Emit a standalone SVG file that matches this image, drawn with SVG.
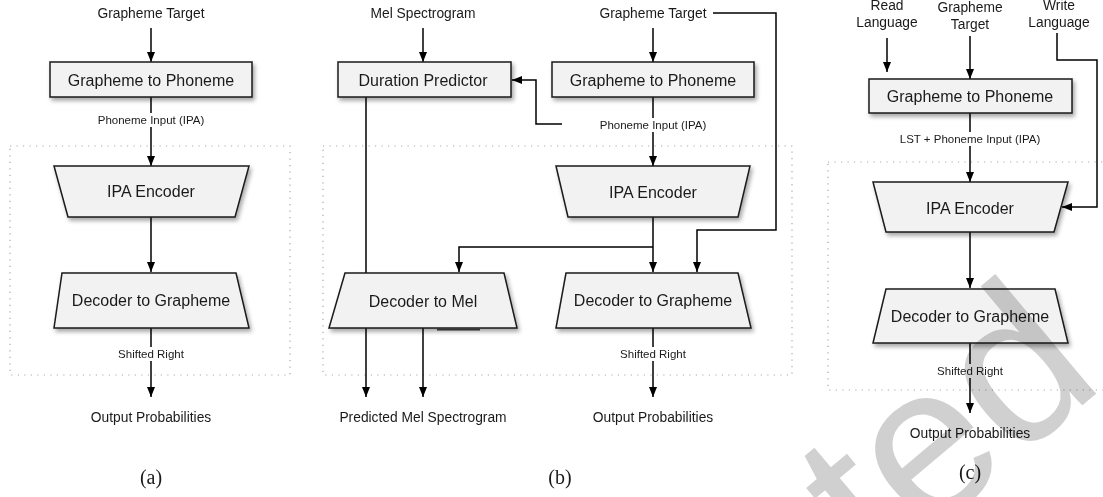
<svg xmlns="http://www.w3.org/2000/svg" width="1103" height="497" viewBox="0 0 1103 497">
<style>
.box{fill:#f2f2f2;stroke:#1a1a1a;stroke-width:1.5;filter:url(#sh)}
.t16{font-family:"Liberation Sans",Arial,sans-serif;font-size:16px;text-anchor:middle;fill:#1a1a1a}
.t14{font-family:"Liberation Sans",Arial,sans-serif;font-size:13.8px;text-anchor:middle;fill:#1a1a1a}
.t11{font-family:"Liberation Sans",Arial,sans-serif;font-size:11.5px;text-anchor:middle;fill:#1a1a1a}
.cap{font-family:"Liberation Serif","Times New Roman",serif;font-size:20px;text-anchor:middle;fill:#1a1a1a}
.wire{fill:none;stroke:#000;stroke-width:1.5}
.arr{marker-end:url(#ah)}
.dot{fill:none;stroke:#aaa;stroke-width:1.2;stroke-dasharray:1.2 5.3}
.lbg{fill:#fff}
.wm{font-family:"Liberation Sans",Arial,sans-serif;font-size:216px;fill:#d0d0d0;mix-blend-mode:multiply}
</style>
<defs>
<filter id="sh" x="-10%" y="-20%" width="130%" height="160%">
<feDropShadow dx="2" dy="3" stdDeviation="2" flood-color="#000" flood-opacity="0.35"/>
</filter>
<marker id="ah" markerUnits="userSpaceOnUse" markerWidth="10" markerHeight="8" refX="10" refY="4" orient="auto">
<path d="M0,0 L10,4 L0,8 z" fill="#000"/>
</marker>
</defs>
<rect width="1103" height="497" fill="#fff"/>

<g id="groups">
<rect class="dot" x="10" y="146" width="280" height="229"/>
<rect class="dot" x="323" y="146" width="469" height="229"/>
<rect class="dot" x="828" y="162" width="300" height="228"/>
</g>

<g id="connectors">
<!-- (a) -->
<path class="wire arr" d="M151,28 V62"/>
<path class="wire arr" d="M151,97 V166"/>
<path class="wire arr" d="M151,217 V272"/>
<path class="wire arr" d="M151,328 V397"/>
<!-- (b) -->
<path class="wire arr" d="M423,28 V62"/>
<path class="wire arr" d="M653,28 V62"/>
<path class="wire arr" d="M713,13 H776 V230 H697 V272"/>
<path class="wire arr" d="M653,97 V166"/>
<path class="wire arr" d="M562,124 H536 V80 H512"/>
<path class="wire arr" d="M653,217 V272"/>
<path class="wire arr" d="M653,247 H459 V272"/>
<path class="wire" d="M366,97 V273"/>
<path class="wire arr" d="M366,328 V397"/>
<path class="wire arr" d="M423,328 V397"/>
<path class="wire arr" d="M653,328 V397"/>
<!-- (c) -->
<path class="wire arr" d="M887,38 V72"/>
<path class="wire arr" d="M970,36 V79"/>
<path class="wire arr" d="M1057,33 V60 H1097 V207 H1062"/>
<path class="wire arr" d="M970,113 V182"/>
<path class="wire arr" d="M970,232 V288"/>
<path class="wire arr" d="M970,343 V413"/>
</g>

<g id="edge-labels">
<rect class="lbg" x="94" y="113" width="114" height="14"/>
<text class="t11" x="151" y="124">Phoneme Input (IPA)</text>
<rect class="lbg" x="117" y="347" width="68" height="14"/>
<text class="t11" x="151" y="358">Shifted Right</text>
<rect class="lbg" x="596" y="118" width="114" height="14"/>
<text class="t11" x="653" y="129">Phoneme Input (IPA)</text>
<rect class="lbg" x="619" y="347" width="68" height="14"/>
<text class="t11" x="653" y="358">Shifted Right</text>
<rect class="lbg" x="897" y="132" width="146" height="14"/>
<text class="t11" x="970" y="143">LST + Phoneme Input (IPA)</text>
<rect class="lbg" x="936" y="364" width="68" height="14"/>
<text class="t11" x="970" y="375">Shifted Right</text>
</g>

<g id="io-labels">
<text class="t14" x="151" y="18">Grapheme Target</text>
<text class="t14" x="151" y="421.5">Output Probabilities</text>
<text class="t14" x="423" y="18">Mel Spectrogram</text>
<text class="t14" x="653" y="18">Grapheme Target</text>
<text class="t14" x="423" y="421.5">Predicted Mel Spectrogram</text>
<text class="t14" x="653" y="421.5">Output Probabilities</text>
<text class="t14" x="887" y="10">Read</text>
<text class="t14" x="887" y="27">Language</text>
<text class="t14" x="970" y="12">Grapheme</text>
<text class="t14" x="970" y="28.5">Target</text>
<text class="t14" x="1059" y="10">Write</text>
<text class="t14" x="1059" y="27">Language</text>
<text class="t14" x="970" y="437.5">Output Probabilities</text>
</g>

<g id="a-g2p">
<rect class="box" x="50" y="62" width="202" height="35"/>
<text class="t16" x="151" y="86">Grapheme to Phoneme</text>
</g>
<g id="a-enc">
<path class="box" d="M54,166 H249 L235,217 H68 Z"/>
<text class="t16" x="151" y="197">IPA Encoder</text>
</g>
<g id="a-dec">
<path class="box" d="M62,273 H236 L249,328 H54 Z"/>
<text class="t16" x="151" y="306">Decoder to Grapheme</text>
</g>

<g id="b-dur">
<rect class="box" x="338" y="62" width="173" height="35"/>
<text class="t16" x="423" y="86">Duration Predictor</text>
</g>
<g id="b-g2p">
<rect class="box" x="552" y="62" width="202" height="35"/>
<text class="t16" x="653" y="86">Grapheme to Phoneme</text>
</g>
<g id="b-enc">
<path class="box" d="M556,166 H750 L738,217 H568 Z"/>
<text class="t16" x="653" y="198">IPA Encoder</text>
</g>
<g id="b-decmel">
<path class="box" d="M345,273 H504 L517,328 H329 Z"/>
<path d="M437,329.5 H480" stroke="#333" stroke-width="2"/>
<text class="t16" x="423" y="307">Decoder to Mel</text>
</g>
<g id="b-dec">
<path class="box" d="M566,273 H738 L751,328 H556 Z"/>
<text class="t16" x="653" y="306">Decoder to Grapheme</text>
</g>

<g id="c-g2p">
<rect class="box" x="869" y="79" width="203" height="34"/>
<text class="t16" x="970" y="102">Grapheme to Phoneme</text>
</g>
<g id="c-enc">
<path class="box" d="M873,182 H1068 L1054,232 H886 Z"/>
<text class="t16" x="970" y="214">IPA Encoder</text>
</g>
<g id="c-dec">
<path class="box" d="M886,289 H1055 L1068,343 H873 Z"/>
<text class="t16" x="970" y="322">Decoder to Grapheme</text>
</g>

<g id="captions">
<text class="cap" x="151" y="484">(a)</text>
<text class="cap" x="560" y="484">(b)</text>
<text class="cap" x="970" y="479">(c)</text>
</g>

<text class="wm" transform="translate(877,577.5) rotate(-40)">ted</text>
</svg>
